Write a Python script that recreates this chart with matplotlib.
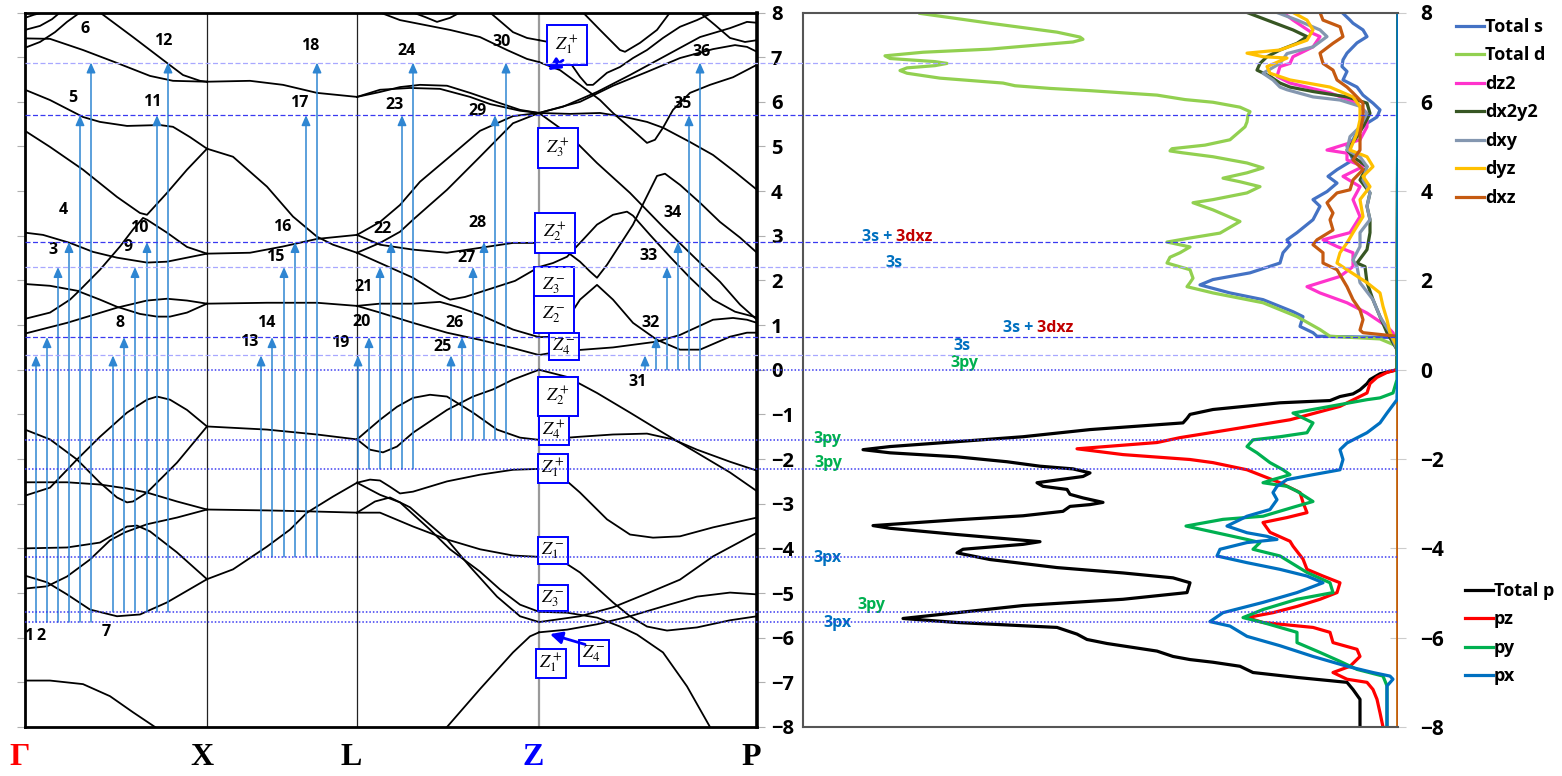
import matplotlib.pyplot as plt

plt.rcParams['font.family'] = ['Open Sans', 'Liberation Sans', 'DejaVu Sans']
plt.rcParams['mathtext.fontset'] = 'stix'

# high-symmetry points along the k-path (arb. units)
sym_k = [25, 207, 357, 539, 757]
sym_names = ['Γ', 'X', 'L', 'Z', 'P']
sym_colors = ['red', 'black', 'black', 'blue', 'black']

# bands (k, E in eV) for each branch of the path
gamma_x = [
    [(25, 7.88), (34, 7.95), (43, 8.0)],
    [(25, 7.61), (40, 7.70), (52, 7.85), (60, 8.0)],
    [(25, 7.42), (50, 7.41), (83, 7.16), (117, 6.87), (150, 6.58), (173, 6.47), (207, 6.45)],
    [(25, 7.21), (40, 7.34), (55, 7.56), (67, 7.79), (80, 8.0)],
    [(100, 8.0), (133, 7.45), (167, 6.87), (183, 6.60), (200, 6.47), (207, 6.45)],
    [(25, 6.27), (50, 6.04), (83, 5.66), (100, 5.55), (127, 5.46), (160, 5.48), (173, 5.44), (190, 5.21), (207, 4.95)],
    [(25, 5.35), (50, 4.99), (83, 4.48), (117, 3.87), (140, 3.51), (147, 3.47), (167, 3.96), (187, 4.48), (207, 4.95)],
    [(25, 3.07), (43, 3.02), (70, 2.84), (93, 2.64), (117, 2.51), (147, 2.40), (167, 2.42), (187, 2.51), (207, 2.60)],
    [(25, 1.14), (50, 1.28), (70, 1.57), (77, 1.72), (100, 2.24), (120, 2.76), (133, 3.14), (143, 3.40), (147, 3.36),
     (167, 3.07), (187, 2.75), (207, 2.60)],
    [(25, 1.92), (50, 1.88), (77, 1.77), (100, 1.57), (117, 1.41), (140, 1.25), (157, 1.19), (170, 1.19), (187, 1.28), (207, 1.48)],
    [(25, 0.81), (67, 1.05), (117, 1.39), (147, 1.55), (167, 1.59), (187, 1.55), (207, 1.48)],
    [(25, -1.34), (50, -1.56), (77, -2.01), (100, -2.53), (117, -2.86), (127, -2.97), (133, -2.95), (147, -2.75),
     (160, -2.46), (177, -2.08), (207, -1.27)],
    [(25, -2.82), (50, -2.64), (77, -2.01), (100, -1.50), (127, -0.96), (147, -0.67), (157, -0.60), (170, -0.67),
     (187, -0.90), (207, -1.27)],
    [(25, -2.52), (67, -2.52), (100, -2.57), (127, -2.66), (147, -2.75), (177, -2.95), (207, -3.13)],
    [(25, -4.90), (47, -4.85), (67, -4.63), (90, -4.25), (110, -3.82), (125, -3.64), (147, -3.46), (177, -3.31), (207, -3.13)],
    [(25, -4.00), (67, -3.98), (100, -3.87), (127, -3.51), (137, -3.49), (150, -3.62), (177, -4.09), (207, -4.69)],
    [(25, -4.61), (47, -4.76), (67, -5.03), (90, -5.37), (117, -5.52), (140, -5.48), (167, -5.21), (207, -4.69)],
    [(25, -6.96), (50, -6.96), (83, -7.04), (110, -7.31), (133, -7.67), (155, -8.0)],
]

x_l = [
    [(207, 6.45), (250, 6.47), (283, 6.38), (317, 6.20), (357, 6.11)],
    [(207, 4.95), (233, 4.77), (267, 4.10), (293, 3.43), (317, 2.98), (333, 2.80), (357, 2.62)],
    [(207, 2.60), (250, 2.62), (283, 2.76), (317, 2.93), (357, 3.02)],
    [(207, 1.48), (267, 1.50), (317, 1.50), (357, 1.43)],
    [(207, -1.27), (267, -1.34), (317, -1.45), (357, -1.56)],
    [(207, -3.13), (267, -3.15), (307, -3.17), (357, -3.20)],
    [(207, -4.69), (233, -4.47), (267, -3.96), (290, -3.58), (307, -3.20), (333, -2.84), (357, -2.53)],
]

l_z = [
    [(357, 6.11), (380, 6.22), (400, 6.33), (420, 6.38), (447, 6.36), (470, 6.20), (500, 5.97), (520, 5.82), (539, 5.75)],
    [(357, 6.11), (380, 6.27), (410, 6.31), (440, 6.29), (470, 6.11), (490, 5.95), (520, 5.80), (539, 5.75)],
    [(380, 8.0), (400, 7.83), (425, 7.72), (450, 7.61), (480, 7.45), (507, 7.16), (527, 6.96), (539, 6.89)],
    [(413, 8.0), (425, 7.90), (437, 7.79), (450, 7.88), (460, 8.0)],
    [(490, 8.0), (513, 7.56), (527, 7.43), (539, 7.38)],
    [(357, 3.02), (380, 3.31), (400, 3.69), (420, 4.21), (447, 4.72), (480, 5.35), (513, 5.68), (539, 5.75)],
    [(357, 2.62), (380, 2.84), (400, 3.09), (413, 3.36), (447, 4.03), (480, 4.77), (513, 5.52), (539, 5.75)],
    [(357, 3.02), (380, 2.80), (413, 2.69), (447, 2.62), (480, 2.73), (513, 2.84), (539, 2.84)],
    [(357, 2.62), (380, 2.39), (413, 2.06), (440, 1.68), (450, 1.57), (465, 1.63), (490, 1.81), (515, 1.99), (539, 2.30)],
    [(357, 1.43), (380, 1.48), (413, 1.48), (440, 1.52), (460, 1.39), (480, 1.23), (513, 0.90), (539, 0.73)],
    [(357, 1.43), (380, 1.28), (413, 1.05), (447, 0.83), (480, 0.67), (507, 0.52), (539, 0.33)],
    [(357, -1.56), (370, -1.79), (383, -1.85), (397, -1.72), (413, -1.41), (447, -0.90), (473, -0.60), (493, -0.44),
     (513, -0.22), (539, 0.0)],
    [(357, -1.56), (380, -1.12), (397, -0.83), (413, -0.63), (430, -0.56), (447, -0.60), (473, -0.96), (497, -1.34),
     (520, -1.52), (539, -1.57)],
    [(357, -2.53), (370, -2.46), (380, -2.48), (390, -2.62), (400, -2.77), (413, -2.73), (447, -2.50), (480, -2.35),
     (513, -2.24), (539, -2.22)],
    [(357, -2.53), (380, -2.80), (400, -2.97), (430, -3.58), (450, -4.02), (480, -4.52), (500, -4.92), (520, -5.26), (539, -5.42)],
    [(357, -3.20), (375, -2.95), (390, -2.86), (410, -3.08), (430, -3.47), (447, -3.80), (470, -4.41), (497, -5.08),
     (520, -5.52), (539, -5.65)],
    [(357, -3.20), (380, -3.20), (413, -3.51), (447, -3.80), (480, -4.02), (513, -4.16), (539, -4.19)],
    [(447, -8.0), (480, -7.15), (513, -6.33), (530, -5.97), (539, -5.88)],
]

z_p = [
    [(539, 0.0), (567, -0.16), (597, -0.52), (630, -0.96), (663, -1.41), (697, -1.86), (730, -2.30), (757, -2.72)],
    [(539, -1.57), (580, -1.50), (613, -1.45), (647, -1.43), (673, -1.56), (697, -1.79), (730, -2.06), (757, -2.26)],
    [(539, -2.22), (557, -2.30), (580, -2.75), (607, -3.35), (630, -3.69), (653, -3.76), (680, -3.73), (713, -3.53), (757, -3.31)],
    [(539, -4.19), (560, -4.25), (580, -4.54), (613, -5.21), (630, -5.52), (647, -5.75), (667, -5.84), (697, -5.77),
     (730, -5.61), (757, -5.52)],
    [(539, -5.42), (567, -5.44), (597, -5.55), (620, -5.75), (637, -5.93), (663, -6.33), (687, -7.09), (710, -8.0)],
    [(539, -5.65), (580, -5.52), (613, -5.32), (647, -5.01), (680, -4.70), (713, -4.18), (757, -3.65)],
    [(539, -5.88), (567, -5.82), (597, -5.70), (630, -5.52), (663, -5.30), (697, -5.08), (730, -4.99), (757, -5.03)],
    [(539, 0.33), (560, 0.41), (613, 0.50), (657, 0.63), (680, 0.78), (713, 1.12), (733, 1.16), (747, 1.12), (757, 1.05)],
    [(539, 0.73), (553, 0.74), (567, 1.12), (580, 1.57), (597, 1.90), (613, 1.57), (633, 1.05), (657, 0.67), (680, 0.45),
     (700, 0.45), (730, 0.74), (747, 0.83), (757, 0.83)],
    [(539, 2.84), (553, 2.75), (567, 2.64), (580, 2.42), (590, 2.20), (597, 2.06), (607, 2.35), (620, 2.80), (633, 3.25),
     (645, 3.80), (657, 4.34), (665, 4.39), (680, 4.14), (700, 3.74), (720, 3.31), (740, 2.96), (757, 2.62)],
    [(539, 2.30), (553, 2.39), (567, 2.53), (580, 2.84), (597, 3.25), (613, 3.47), (627, 3.54), (633, 3.45), (650, 3.02),
     (670, 2.53), (690, 2.06), (713, 1.57), (735, 1.30), (757, 1.17)],
    [(539, 5.75), (567, 5.30), (597, 4.63), (630, 3.96), (663, 3.20), (697, 2.46), (720, 1.97), (740, 1.46), (757, 1.12)],
    [(539, 5.75), (570, 5.73), (600, 5.75), (625, 5.66), (647, 5.55), (663, 5.42), (690, 5.10), (713, 4.81), (735, 4.43), (757, 4.03)],
    [(539, 6.89), (560, 6.71), (580, 6.38), (600, 6.04), (613, 5.75), (630, 5.42), (647, 5.08), (655, 5.15), (663, 5.42),
     (673, 5.82), (690, 6.20), (710, 6.38), (733, 6.55), (757, 6.83)],
    [(539, 5.75), (563, 5.89), (597, 6.22), (630, 6.60), (663, 7.00), (700, 7.45), (730, 7.65), (747, 7.79), (757, 7.77)],
    [(539, 5.75), (580, 6.00), (613, 6.36), (647, 6.67), (680, 6.98), (713, 7.18), (735, 7.27), (747, 7.23), (757, 7.12)],
    [(539, 7.38), (553, 7.32), (567, 6.98), (580, 6.56), (587, 6.38), (593, 6.38), (607, 6.65), (620, 6.78), (633, 6.98),
     (647, 7.16), (663, 7.43), (680, 7.68), (697, 7.83), (713, 8.0)],
    [(583, 8.0), (600, 7.61), (620, 7.16), (625, 7.12), (640, 7.32), (657, 7.61), (670, 8.0)],
    [(700, 8.0), (715, 7.72), (730, 7.43), (745, 7.34), (757, 7.38)],
]

# transition levels (eV): arrows start on a valence level, end on a conduction level
val_levels = [-5.65, -5.42, -4.19, -2.22, -1.57, 0.0]
cond_levels = [0.32, 0.73, 2.30, 2.86, 5.70, 6.88]
cond_faint = [True, False, True, False, False, True]
arrow_k = [
    [36, 47, 58, 69, 80, 91],
    [113, 124, 135, 147, 157, 168],
    [261, 272, 284, 295, 306, 317],
    [358, 369, 380, 391, 402, 413],
    [451, 462, 473, 484, 495, 506],
    [645, 656, 667, 678, 689, 700],
]
num_pos = [(29, -5.97), (41, -5.97), (53, 2.69), (63, 3.58), (73, 6.09), (85, 7.63),
           (106, -5.88), (120, 1.05), (128, 2.75), (139, 3.18), (152, 6.0), (163, 7.36),
           (249, 0.63), (266, 1.05), (275, 2.53), (282, 3.20), (299, 5.98), (310, 7.25),
           (340, 0.61), (362, 1.08), (364, 1.86), (383, 3.16), (395, 5.93), (407, 7.14),
           (443, 0.52), (455, 1.05), (467, 2.51), (477, 3.29), (477, 5.80), (502, 7.34),
           (638, -0.27), (651, 1.05), (649, 2.55), (673, 3.51), (683, 5.95), (702, 7.12)]

# irreducible representations at Z
z_labels = ['$Z_1^+$', '$Z_3^+$', '$Z_2^+$', '$Z_3^-$', '$Z_2^-$', '$Z_4^-$', '$Z_2^+$',
            '$Z_4^+$', '$Z_1^+$', '$Z_1^-$', '$Z_3^-$', '$Z_4^-$', '$Z_1^+$']
z_pos = [(567, 7.27), (558, 4.97), (555, 3.07), (554, 1.88), (554, 1.23), (564, 0.52), (558, -0.60),
         (554, -1.36), (553, -2.21), (553, -4.05), (553, -5.12), (594, -6.35), (551, -6.58)]
z_wide = [True, True, True, True, True, False, True, False, False, False, False, False, False]

# projected DOS (states/eV), energies in eV
E_s = [7.98, 7.83, 7.76, 7.61, 7.46, 7.32, 7.09, 6.94, 6.79, 6.68, 6.49, 6.33, 6.15, 5.97, 5.82, 5.66, 5.52, 5.33,
       5.15, 5.0, 4.70, 4.48, 4.33, 4.18, 3.99, 3.81, 3.66, 3.36, 3.07, 2.91, 2.80, 2.62, 2.39, 2.17, 2.02, 1.90,
       1.72, 1.57, 1.30, 1.19, 0.97, 0.83, 0.75, 0.72, 0.65, -8.0]
dos_s = [0.55, 0.48, 0.45, 0.35, 0.31, 0.41, 0.51, 0.55, 0.56, 0.51, 0.55, 0.41, 0.35, 0.25, 0.18, 0.21, 0.31, 0.41,
         0.45, 0.51, 0.45, 0.61, 0.70, 0.61, 0.71, 0.85, 0.78, 0.85, 1.01, 1.11, 1.08, 1.15, 1.18, 1.48, 1.85, 1.98,
         1.68, 1.35, 1.05, 0.95, 0.98, 0.85, 0.81, 0.01, 0.0, 0.0]

E_d = [7.98, 7.76, 7.56, 7.45, 7.40, 7.34, 7.18, 7.11, 7.03, 6.97, 6.90, 6.86, 6.81, 6.76, 6.70, 6.64, 6.53, 6.42,
       6.36, 6.30, 6.25, 6.15, 6.05, 5.99, 5.88, 5.78, 5.70, 5.55, 5.44, 5.15, 5.03, 4.95, 4.90, 4.86, 4.77, 4.63,
       4.52, 4.41, 4.29, 4.21, 4.10, 3.96, 3.81, 3.74, 3.58, 3.32, 3.06, 2.95, 2.86, 2.75, 2.62, 2.52, 2.39, 2.24,
       2.05, 1.95, 1.86, 1.72, 1.50, 1.19, 0.90, 0.75, 0.69, 0.53, 0.40, -8.0]
dos_d = [4.78, 4.08, 3.41, 3.18, 3.15, 3.25, 4.08, 4.75, 5.13, 5.08, 4.63, 4.51, 4.63, 4.91, 4.98, 4.91, 4.58, 3.95,
         3.83, 3.48, 3.08, 2.41, 2.13, 1.85, 1.58, 1.48, 1.50, 1.51, 1.53, 1.68, 1.93, 2.26, 2.28, 2.16, 1.85, 1.51,
         1.35, 1.51, 1.75, 1.58, 1.38, 1.51, 1.85, 2.05, 1.85, 1.58, 1.78, 2.08, 2.31, 2.08, 2.18, 2.28, 2.31, 2.08,
         2.05, 2.08, 2.11, 1.85, 1.35, 1.01, 0.78, 0.68, 0.18, 0.01, 0.0, 0.0]

E_dz2 = [8.0, 7.83, 7.53, 7.46, 7.23, 7.01, 6.86, 6.79, 6.57, 6.42, 6.20, 5.97, 5.74, 5.44, 5.15, 4.92, 4.85, 4.70,
         4.55, 4.33, 4.10, 3.81, 3.43, 3.07, 2.91, 2.76, 2.62, 2.31, 2.09, 1.86, 1.72, 1.50, 1.27, 0.97, 0.83, 0.53,
         0.45, -8.0]
dos_dz2 = [1.15, 1.05, 0.85, 0.78, 0.85, 1.05, 1.08, 1.18, 1.21, 1.08, 0.68, 0.41, 0.31, 0.31, 0.38, 0.71, 0.51, 0.51,
           0.35, 0.55, 0.38, 0.45, 0.38, 0.48, 0.75, 0.61, 0.45, 0.45, 0.58, 0.91, 0.78, 0.51, 0.31, 0.11, 0.05, 0.01,
           0.0, 0.0]

E_dx2y2 = [8.0, 7.83, 7.61, 7.46, 7.31, 7.16, 7.01, 6.86, 6.71, 6.57, 6.42, 6.33, 6.23, 6.11, 5.97, 5.74, 5.44, 5.22,
           4.92, 4.77, 4.55, 4.25, 3.96, 3.66, 3.36, 3.07, 2.69, 2.39, 2.31, 1.95, 1.57, 1.19, 0.83, 0.45, 0.40, -8.0]
dos_dx2y2 = [1.51, 1.31, 1.05, 0.91, 1.01, 1.18, 1.31, 1.38, 1.41, 1.28, 1.18, 1.08, 0.85, 0.51, 0.31, 0.28, 0.35, 0.41,
             0.51, 0.45, 0.31, 0.38, 0.28, 0.31, 0.28, 0.28, 0.31, 0.41, 0.33, 0.31, 0.25, 0.18, 0.11, 0.01, 0.0, 0.0]

E_dxy = [8.0, 7.83, 7.61, 7.46, 7.23, 7.08, 6.86, 6.64, 6.49, 6.33, 6.27, 6.11, 6.04, 5.90, 5.74, 5.44, 5.22, 4.92,
         4.77, 4.55, 4.25, 3.96, 3.66, 3.36, 3.07, 2.76, 2.46, 2.31, 1.95, 1.57, 1.19, 0.83, 0.45, 0.40, -8.0]
dos_dxy = [1.21, 1.01, 0.78, 0.71, 0.85, 1.11, 1.18, 1.35, 1.25, 1.18, 1.11, 0.85, 0.58, 0.38, 0.31, 0.38, 0.48, 0.51,
           0.38, 0.31, 0.35, 0.28, 0.31, 0.28, 0.38, 0.38, 0.45, 0.41, 0.38, 0.25, 0.18, 0.08, 0.01, 0.0, 0.0]

E_dyz = [8.0, 7.83, 7.61, 7.38, 7.16, 7.09, 7.01, 6.98, 6.79, 6.64, 6.49, 6.33, 6.11, 5.89, 5.60, 5.30, 4.92, 4.77,
         4.55, 4.33, 4.10, 3.81, 3.43, 3.07, 2.84, 2.62, 2.39, 2.24, 1.95, 1.72, 1.42, 1.12, 0.83, 0.53, 0.45, -8.0]
dos_dyz = [1.05, 0.91, 0.85, 0.91, 1.18, 1.51, 1.35, 1.11, 1.31, 1.28, 1.08, 0.68, 0.45, 0.38, 0.38, 0.41, 0.48, 0.31,
           0.25, 0.35, 0.28, 0.38, 0.35, 0.45, 0.51, 0.58, 0.61, 0.51, 0.31, 0.18, 0.15, 0.11, 0.08, 0.01, 0.0, 0.0]

E_dxz = [8.0, 7.83, 7.68, 7.46, 7.31, 7.09, 6.86, 6.71, 6.49, 6.33, 6.20, 5.97, 5.66, 5.30, 4.92, 4.70, 4.48, 4.25,
         4.03, 3.96, 3.74, 3.51, 3.36, 3.13, 2.91, 2.80, 2.62, 2.39, 2.24, 1.86, 1.57, 1.34, 1.12, 0.89, 0.83, 0.75,
         0.70, -8.0]
dos_dxz = [0.78, 0.75, 0.58, 0.55, 0.65, 0.78, 0.75, 0.65, 0.61, 0.51, 0.45, 0.35, 0.35, 0.38, 0.38, 0.45, 0.35, 0.45,
           0.48, 0.61, 0.71, 0.65, 0.68, 0.65, 0.81, 0.85, 0.75, 0.75, 0.61, 0.51, 0.45, 0.38, 0.35, 0.38, 0.35, 0.01,
           0.0, 0.0]

E_p = [8.0, 0.0, -0.09, -0.22, -0.31, -0.45, -0.54, -0.60, -0.69, -0.74, -0.89, -1.0, -1.09, -1.19, -1.34, -1.50,
       -1.61, -1.72, -1.79, -1.86, -1.95, -2.06, -2.16, -2.22, -2.31, -2.39, -2.53, -2.61, -2.68, -2.79, -2.87, -2.97,
       -3.02, -3.06, -3.17, -3.27, -3.36, -3.49, -3.55, -3.69, -3.85, -3.91, -4.02, -4.10, -4.25, -4.43, -4.55, -4.66,
       -4.77, -4.99, -5.14, -5.28, -5.44, -5.57, -5.66, -5.77, -5.92, -6.04, -6.13, -6.30, -6.42, -6.49, -6.55, -6.64,
       -6.78, -6.89, -7.0, -7.16, -7.38, -8.0]
dos_p = [0.0, 0.01, 0.18, 0.28, 0.31, 0.38, 0.45, 0.58, 0.68, 1.18, 1.85, 2.08, 2.11, 2.15, 3.08, 3.75, 4.41, 5.08,
         5.35, 5.08, 4.41, 3.91, 3.58, 3.25, 3.08, 3.15, 3.61, 3.55, 3.31, 3.28, 3.15, 2.95, 3.08, 3.28, 3.35, 3.75,
         4.41, 5.25, 5.08, 4.41, 3.58, 3.75, 4.35, 4.41, 4.08, 3.41, 2.75, 2.25, 2.08, 2.11, 2.75, 3.75, 4.41, 4.95,
         4.41, 3.41, 3.21, 3.11, 2.91, 2.41, 2.25, 2.08, 1.85, 1.58, 1.45, 1.01, 0.51, 0.45, 0.38, 0.38]

E_pz = [8.0, 0.0, -0.06, -0.17, -0.31, -0.52, -0.82, -1.12, -1.34, -1.52, -1.63, -1.77, -1.90, -2.01, -2.08, -2.24,
        -2.53, -2.75, -2.97, -3.20, -3.31, -3.42, -3.64, -3.84, -3.95, -4.24, -4.47, -4.62, -4.77, -4.99, -5.14, -5.30,
        -5.44, -5.55, -5.66, -5.77, -5.88, -6.11, -6.26, -6.42, -6.64, -6.78, -6.93, -7.0, -7.16, -7.38, -7.68, -8.0]
dos_pz = [0.0, 0.01, 0.11, 0.21, 0.28, 0.31, 0.58, 1.08, 1.68, 2.18, 2.41, 3.21, 2.75, 2.08, 1.85, 1.51, 1.18, 0.98,
          0.95, 0.91, 1.11, 1.35, 1.28, 1.08, 1.05, 0.95, 0.91, 0.75, 0.58, 0.61, 0.78, 1.01, 1.25, 1.51, 1.35, 0.85,
          0.68, 0.65, 0.41, 0.38, 0.48, 0.65, 0.51, 0.31, 0.25, 0.21, 0.18, 0.15]

E_py = [8.0, 0.0, -0.22, -0.52, -0.63, -0.67, -0.82, -0.97, -1.19, -1.41, -1.50, -1.57, -1.72, -1.86, -2.08, -2.24,
        -2.35, -2.46, -2.53, -2.61, -2.72, -2.95, -3.08, -3.28, -3.35, -3.50, -3.80, -3.87, -4.02, -4.17, -4.54, -4.77,
        -4.99, -5.14, -5.37, -5.55, -5.66, -5.77, -5.88, -6.11, -6.33, -6.53, -6.71, -6.86, -7.08, -7.38, -8.0]
dos_py = [0.0, 0.01, 0.01, 0.05, 0.18, 0.31, 0.68, 1.05, 0.85, 0.91, 1.18, 1.45, 1.51, 1.41, 1.28, 1.15, 1.08, 1.25,
          1.35, 1.11, 1.01, 0.85, 1.05, 1.35, 1.75, 2.12, 1.51, 1.38, 1.45, 1.18, 0.91, 0.68, 0.65, 1.01, 1.35, 1.55,
          1.35, 1.18, 1.01, 1.01, 0.78, 0.58, 0.41, 0.15, 0.11, 0.11, 0.11]

E_px = [8.0, 0.0, -0.60, -0.67, -0.97, -1.19, -1.41, -1.64, -1.79, -2.01, -2.24, -2.35, -2.46, -2.61, -2.75, -2.91,
        -3.13, -3.28, -3.50, -3.65, -3.73, -3.80, -3.87, -4.02, -4.17, -4.32, -4.47, -4.62, -4.77, -4.99, -5.21, -5.44,
        -5.64, -5.74, -5.97, -6.18, -6.42, -6.64, -6.78, -6.86, -6.93, -7.08, -8.0]
dos_px = [0.0, 0.0, 0.01, 0.01, 0.11, 0.18, 0.31, 0.51, 0.58, 0.55, 0.58, 0.85, 1.11, 1.21, 1.25, 1.21, 1.28, 1.51,
          1.71, 1.51, 1.31, 1.21, 1.51, 1.78, 1.81, 1.51, 1.18, 0.91, 0.75, 1.01, 1.35, 1.75, 1.88, 1.68, 1.51, 1.18,
          0.85, 0.51, 0.25, 0.08, 0.05, 0.11, 0.11]

W, H = 1562, 776
fig = plt.figure(figsize=(W / 100, H / 100), dpi=100)
bot, hgt = 49 / H, 714.5 / H
ax = fig.add_axes([25 / W, bot, 732 / W, hgt])
ax2 = fig.add_axes([803 / W, bot, 595 / W, hgt])
ov = fig.add_axes([25 / W, bot, 1373 / W, hgt])

# ---- band structure ----
for seg in (gamma_x, x_l, l_z, z_p):
    for band in seg:
        k, e = zip(*band)
        ax.plot(k, e, color='black', lw=1.3, zorder=3)

for k in sym_k[1:3]:
    ax.axvline(k, color='#222222', lw=0.9, zorder=1)
ax.axvline(sym_k[3], color='#9a9a9a', lw=1.6, zorder=1)

arrow_color = '#2F86D2'
n = 0
for g, row in enumerate(arrow_k):
    for j, k in enumerate(row):
        ax.annotate('', xy=(k, cond_levels[j]), xytext=(k, val_levels[g]),
                    arrowprops=dict(arrowstyle='-|>,head_length=0.5,head_width=0.22', color=arrow_color,
                                    lw=1.1, shrinkA=0, shrinkB=0, mutation_scale=12), zorder=4)
        x, y = num_pos[n]
        ax.text(x, y, str(n + 1), ha='center', va='center', fontsize=11.5, fontweight='bold', zorder=5)
        n += 1

for lab, (x, y), wide in zip(z_labels, z_pos, z_wide):
    ax.text(x, y, lab, ha='center', va='center', fontsize=13, zorder=6,
            bbox=dict(boxstyle='square,pad=%.2f' % (0.45 if wide else 0.15), fc='white', ec='blue', lw=1.4))
ax.annotate('', xy=(548, 6.71), xytext=(563, 6.93),
            arrowprops=dict(arrowstyle='-|>,head_length=0.6,head_width=0.3', color='blue', lw=2,
                            shrinkA=0, shrinkB=0, mutation_scale=12), zorder=7)
ax.annotate('', xy=(550, -5.92), xytext=(585, -6.15),
            arrowprops=dict(arrowstyle='-|>,head_length=0.6,head_width=0.3', color='blue', lw=2,
                            shrinkA=0, shrinkB=0, mutation_scale=12), zorder=7)

ax.set_xlim(sym_k[0], sym_k[-1])
ax.set_ylim(-8, 8)
ax.set_xticks([])
ax.yaxis.tick_right()
ax.set_yticks(range(-8, 9))
ax.tick_params(axis='y', right=True, left=True, direction='out', length=6, color='#b0b0b0', pad=4, labelsize=14.5)
for lab in ax.get_yticklabels():
    lab.set_fontweight('bold')
for s in ax.spines.values():
    s.set_linewidth(2)
ax.spines['right'].set_linewidth(2.6)

for k, name, c in zip(sym_k, sym_names, sym_colors):
    ax.annotate(name, xy=(k, 0), xycoords=('data', 'axes fraction'), xytext=(-4, -22), textcoords='offset points',
                ha='center', va='center', fontsize=23, fontweight='bold', color=c, family='Liberation Serif')

# ---- projected DOS ----
sd_curves = [(E_s, dos_s, 'Total s', '#4472C4'), (E_d, dos_d, 'Total d', '#92D050'),
             (E_dz2, dos_dz2, 'dz2', '#FF33CC'), (E_dx2y2, dos_dx2y2, 'dx2y2', '#375623'),
             (E_dxy, dos_dxy, 'dxy', '#8497B0'), (E_dyz, dos_dyz, 'dyz', '#FFC000'),
             (E_dxz, dos_dxz, 'dxz', '#C55A11')]
p_curves = [(E_p, dos_p, 'Total p', 'black'), (E_pz, dos_pz, 'pz', '#FF0000'),
            (E_py, dos_py, 'py', '#00B050'), (E_px, dos_px, 'px', '#0070C0')]

h_sd, h_p = [], []
for e, v, name, c in sd_curves:
    h_sd += ax2.plot(v, e, color=c, lw=2.3, label=name, solid_joinstyle='round')
for e, v, name, c in p_curves:
    h_p += ax2.plot(v, e, color=c, lw=2.3, label=name, solid_joinstyle='round')

ax2.set_xlim(5.95, 0)
ax2.set_ylim(-8, 8)
ax2.set_xticks([])
ax2.yaxis.tick_right()
ax2.set_yticks(range(-8, 9, 2))
ax2.tick_params(axis='y', direction='inout', length=12, color='#cccccc', pad=10, labelsize=15)
for lab in ax2.get_yticklabels():
    lab.set_fontweight('bold')
ax2.spines['right'].set_visible(False)
for s in ('left', 'top', 'bottom'):
    ax2.spines[s].set_color('#555555')
    ax2.spines[s].set_linewidth(1.5)

leg_font = {'size': 13, 'weight': 'bold'}
leg1 = ax2.legend(handles=h_sd, loc='upper left', bbox_to_anchor=(1456 / W, 1 - 18 / H),
                  bbox_transform=fig.transFigure, frameon=False, prop=leg_font, handlelength=1.55,
                  handletextpad=0.05, labelspacing=0.58, borderpad=0, borderaxespad=0)
ax2.add_artist(leg1)
ax2.legend(handles=h_p, loc='upper left', bbox_to_anchor=(1465 / W, 1 - 582 / H),
           bbox_transform=fig.transFigure, frameon=False, prop=leg_font, handlelength=1.55,
           handletextpad=0.05, labelspacing=0.58, borderpad=0, borderaxespad=0)

# orbital character of the levels
blue_t, red_t, green_t = '#0070C0', '#C00000', '#00B050'
for x, y in [(5.36, 2.98), (3.95, 0.94)]:
    t = ax2.text(x, y, '3s +', color=blue_t, fontsize=11.5, fontweight='bold', ha='left', va='center', zorder=5)
    ax2.annotate(' 3dxz', xy=(1, 0), xycoords=t, ha='left', va='bottom', color=red_t, fontsize=11.5,
                 fontweight='bold', zorder=5)
for x, y, s, c in [(5.13, 2.39, '3s', blue_t), (4.45, 0.54, '3s', blue_t), (4.48, 0.14, '3py', green_t),
                   (5.85, -1.56, '3py', green_t), (5.84, -2.08, '3py', green_t), (5.85, -4.21, '3px', blue_t),
                   (5.41, -5.26, '3py', green_t), (5.75, -5.66, '3px', blue_t)]:
    ax2.text(x, y, s, color=c, fontsize=11.5, fontweight='bold', ha='left', va='center', zorder=5)

# reference levels running across both panels
ov.set_xlim(0, 1)
ov.set_ylim(-8, 8)
ov.axis('off')
for e, faint in zip(cond_levels, cond_faint):
    ov.axhline(e, color='#a8a8ff' if faint else '#3a3af0', lw=0.9, ls=(0, (4, 2)))
for e in val_levels:
    ov.axhline(e, color='#3a3af0', lw=1.1, ls=(0, (1, 1.3)))

fig.savefig('out.png', dpi=100, facecolor='white')
